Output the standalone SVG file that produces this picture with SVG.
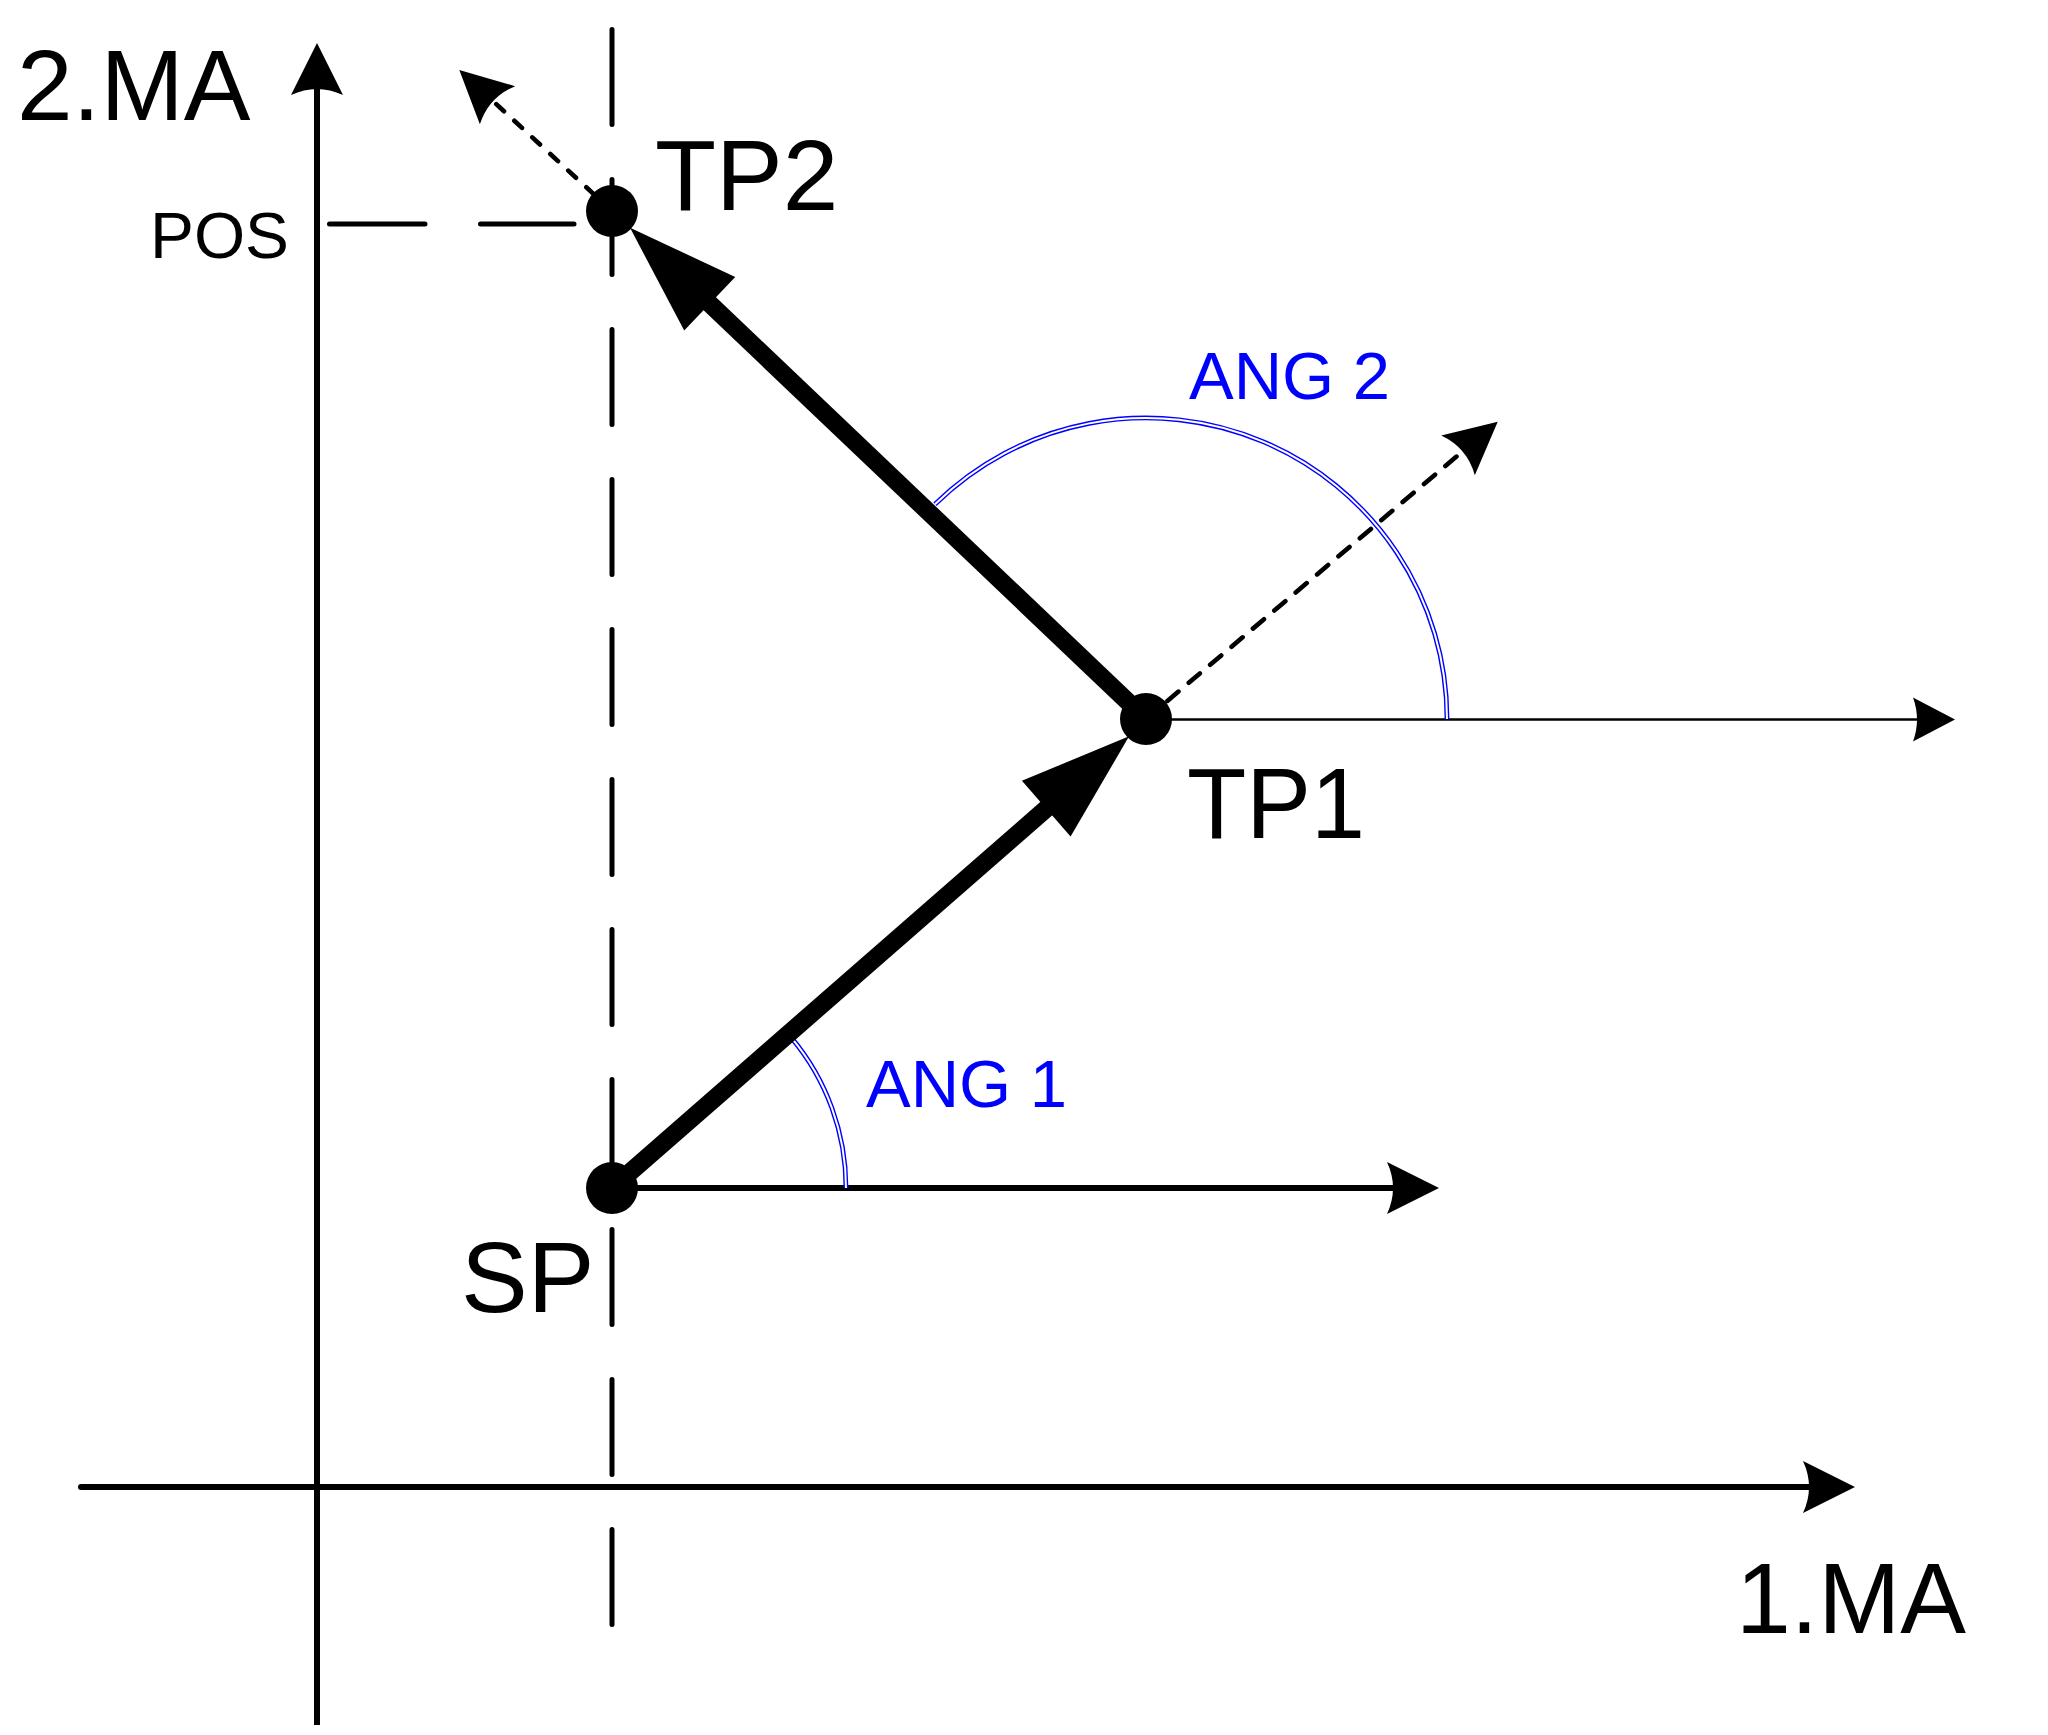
<svg xmlns="http://www.w3.org/2000/svg" width="2048" height="1735" viewBox="0 0 2048 1735">
  <style>
    .lbl { font-family: "Liberation Sans", Arial, sans-serif; fill: #000; }
    .big { font-size: 100px; }
    .pos { font-size: 64px; }
    .ang { font-size: 67px; fill: #0000FF; }
    .axis { stroke: #000; stroke-width: 6; fill: none; }
    .guide { stroke: #000; stroke-width: 5; fill: none; stroke-linecap: round; }
    .thick { stroke: #000; stroke-width: 18; fill: none; }
    .dash { stroke: #000; stroke-width: 4.6; fill: none; stroke-linecap: round; }
    .arcB { stroke: #0000FF; stroke-width: 4.8; fill: none; }
    .arcW { stroke: #FFFFFF; stroke-width: 2; fill: none; }
    .pt { fill: #000; }
  </style>
  <defs>
    <marker id="arr" markerUnits="userSpaceOnUse" orient="auto" refX="0" refY="0" markerWidth="10" markerHeight="10" overflow="visible">
      <path d="M46,0 L-6,-26 Q6,0 -6,26 Z" fill="#000"/>
    </marker>
    <marker id="arrS" markerUnits="userSpaceOnUse" orient="auto" refX="0" refY="0" markerWidth="10" markerHeight="10" overflow="visible">
      <path d="M38,0 L-4,-22 Q4,0 -4,22 Z" fill="#000"/>
    </marker>
    <marker id="arrT" markerUnits="userSpaceOnUse" orient="auto" refX="0" refY="0" markerWidth="10" markerHeight="10" overflow="visible">
      <path d="M109,0 L-1,-37 L-1,37 Z" fill="#000"/>
    </marker>
  </defs>
  <rect width="2048" height="1735" fill="#FFFFFF"/>

  <g id="connectors">
    <!-- axes -->
    <line class="axis" x1="317" y1="1725" x2="317" y2="89" marker-end="url(#arr)"/>
    <line class="axis" x1="81" y1="1487" x2="1809" y2="1487" stroke-linecap="round" marker-end="url(#arr)"/>
    <!-- guide dashes -->
    <line class="guide" x1="612" y1="29.5" x2="612" y2="1624.5" stroke-dasharray="95 55"/>
    <line class="guide" x1="329.5" y1="224" x2="574" y2="224" stroke-dasharray="95.5 55.5"/>
    <!-- reference horizontals -->
    <line class="axis" x1="612" y1="1188" x2="1393" y2="1188" marker-end="url(#arr)"/>
    <line stroke="#000" stroke-width="2.6" x1="1146" y1="719.5" x2="1917" y2="719.5" marker-end="url(#arrS)"/>
    <!-- angle arcs -->
    <path class="arcB" d="M846,1188 A234,234 0 0 0 791.3,1037.6"/>
    <path class="arcW" d="M846,1188 A234,234 0 0 0 791.3,1037.6"/>
    <path class="arcB" d="M1447,719 A301,301 0 0 0 935,504.3"/>
    <path class="arcW" d="M1447,719 A301,301 0 0 0 935,504.3"/>
    <!-- dashed extensions -->
    <line class="dash" x1="1146" y1="719" x2="1462.6" y2="451.4" stroke-dasharray="14.5 13.5" marker-end="url(#arr)"/>
    <line class="dash" x1="612" y1="211" x2="493.1" y2="101.2" stroke-dasharray="10.5 14" marker-end="url(#arr)"/>
    <!-- path vectors -->
    <line class="thick" x1="612" y1="1188" x2="1047" y2="808" marker-end="url(#arrT)"/>
    <line class="thick" x1="1146" y1="719" x2="709" y2="303" marker-end="url(#arrT)"/>
  </g>

  <g id="axis-2MA">
    <text class="lbl big" x="17" y="120">2.MA</text>
  </g>
  <g id="axis-1MA">
    <text class="lbl big" x="1736" y="1633" textLength="230" lengthAdjust="spacingAndGlyphs">1.MA</text>
  </g>
  <g id="pos-label">
    <text class="lbl pos" x="150" y="258" textLength="139" lengthAdjust="spacingAndGlyphs">POS</text>
  </g>
  <g id="SP">
    <circle class="pt" cx="612" cy="1188" r="26"/>
    <text class="lbl big" x="461" y="1312">SP</text>
  </g>
  <g id="TP1">
    <circle class="pt" cx="1146" cy="719" r="26"/>
    <text class="lbl big" x="1187" y="838" textLength="178" lengthAdjust="spacingAndGlyphs">TP1</text>
  </g>
  <g id="TP2">
    <circle class="pt" cx="612" cy="211" r="26"/>
    <text class="lbl big" x="655" y="210">TP2</text>
  </g>
  <g id="ANG1">
    <text class="lbl ang" x="866" y="1107">ANG 1</text>
  </g>
  <g id="ANG2">
    <text class="lbl ang" x="1189" y="399">ANG 2</text>
  </g>
</svg>
